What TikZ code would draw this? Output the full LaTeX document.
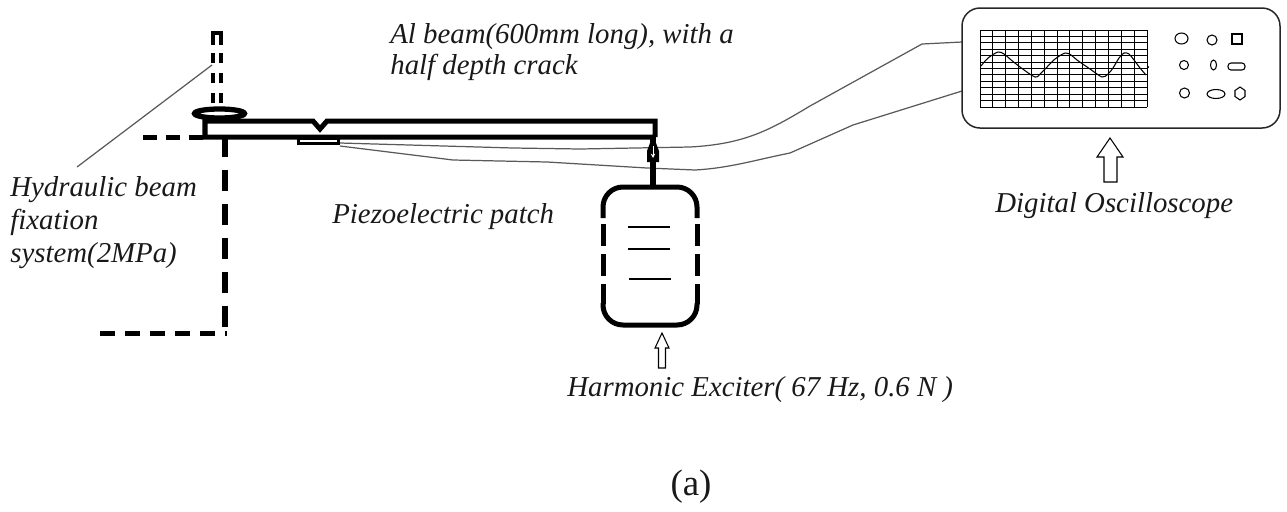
\documentclass[tikz,border=0pt]{standalone}
\usepackage{fontspec}
\setmainfont{Liberation Serif}[ItalicFont={Liberation Serif Italic}]
\usetikzlibrary{arrows.meta}
\begin{document}
\begin{tikzpicture}[x=0.02cm,y=-0.02cm,
  heavy/.style={line width=2.85pt},
  post/.style={line width=2pt},
  wire/.style={line width=0.7pt, draw=black!65},
  fine/.style={line width=0.6pt},
  lbl/.style={font=\fontsize{16.4pt}{20pt}\selectfont\itshape, inner sep=0pt, anchor=base west, text=black!90},
  hollow/.style={line width=0.6pt, draw=black, fill=white, line join=miter}]
\useasboundingbox (0,0) rectangle (1287,511);

% ---------- hydraulic fixation frame ----------
\draw[post] (213,45) -- (213,33) -- (221,33) -- (221,45);
\draw[post, dash pattern=on 0.2cm off 0.2cm] (213,53) -- (213,110);
\draw[post, dash pattern=on 0.2cm off 0.2cm] (221,53) -- (221,110);
\draw[line width=3pt, fill=white] (219.5,113.5) ellipse [x radius=0.5cm, y radius=0.09cm];
\draw[heavy, dash pattern=on 0.28cm off 0.18cm] (143,137) -- (205,137);
\draw[heavy, dash pattern=on 0.42cm off 0.26cm] (225,136) -- (225,333);
\draw[heavy, dash pattern=on 0.3cm off 0.2cm] (100,333) -- (227,333);

% ---------- wires from the patch to the oscilloscope ----------
\coordinate (patchA) at (340,143);
\coordinate (patchB) at (340,146);
\coordinate (chA) at (962,42);
\coordinate (chB) at (962,91);
\draw[wire] (patchA) -- (513,148) -- (580,149) -- (690,147)
  .. controls (745,144) and (770,130) .. (810,106) -- (922,44) -- (chA);
\draw[wire] (patchB) -- (453,160) -- (547,162) -- (647,168) -- (695,170)
  .. controls (730,168) and (755,160) .. (790,153) -- (853,125) -- (chB);

% ---------- cracked aluminium beam ----------
\draw[heavy, line join=miter] (655,137) -- (205,137) -- (205,121) -- (313,121) -- (320,129) -- (327,121) -- (655,121) -- (655,137);
\draw[line width=1.7pt] (298.5,138.5) rectangle (338.5,143.5);

% ---------- stinger and exciter ----------
\draw[line width=3.4pt] (653,137) -- (653,188);
\fill (647,162) -- (647,151) -- (650,143) -- (656,143) -- (659,151) -- (659,162) -- cycle;
\draw[white, line width=0.5pt, -{Stealth[length=2.5pt,width=2.5pt]}] (653,146) -- (653,158);
\draw[heavy, rounded corners=0.4cm] (603,218) -- (603,187) -- (697,187) -- (697,218);
\draw[heavy, rounded corners=0.4cm] (603,303) -- (603,325) -- (697,325) -- (697,303);
\draw[heavy, dash pattern=on 0.44cm off 0.16cm] (603,224) -- (603,304);
\draw[heavy, dash pattern=on 0.44cm off 0.16cm] (697,224) -- (697,304);
\draw[fine] (628,227) -- (670,227);
\draw[fine] (628,249) -- (670,249);
\draw[fine] (629,279) -- (671,279);

% ---------- oscilloscope ----------
\draw[line width=0.85pt, draw=black!85, rounded corners=0.36cm] (962,8) rectangle (1280,128);
\foreach \i in {0,...,13}
  \draw[line width=0.55pt] ({980+\i*12.85},30) -- ({980+\i*12.85},107);
\foreach \j in {0,...,12}
  \draw[line width=0.55pt] (980,{30+\j*6.42}) -- (1147,{30+\j*6.42});
\draw[line width=0.6pt] plot[smooth, tension=0.5] coordinates {
  (981,66) (988,58) (998,52) (1004,54) (1010,59) (1020,67) (1035,77) (1041,73)
  (1047,67) (1055,59) (1065,53) (1071,55) (1077,60) (1090,69) (1102,77) (1108,74)
  (1113,68) (1119,58) (1124,53) (1129,54) (1134,60) (1140,68) (1146,75)};
\fill (1148,67) circle [radius=0.7pt];
% knobs
\draw[fine] (1181.5,38.5) ellipse [x radius=0.13cm, y radius=0.11cm];
\draw[fine] (1212,40) circle [radius=0.1cm];
\draw[fine] (1232,34) rectangle (1242,44);
\draw[fine] (1184,65) circle [radius=0.09cm];
\draw[fine] (1213.5,65) ellipse [x radius=0.06cm, y radius=0.1cm];
\draw[fine, rounded corners=0.06cm] (1228,63) rectangle (1245,70);
\draw[fine] (1184.5,93) circle [radius=0.1cm];
\draw[fine] (1216,94) ellipse [x radius=0.18cm, y radius=0.09cm];
\draw[fine] (1240,87) -- (1245,90.5) -- (1245,96.5) -- (1240,100) -- (1235,96.5) -- (1235,90.5) -- cycle;

% ---------- pointer arrows ----------
\draw[hollow] (662,333) -- (655,348) -- (658.5,348) -- (658.5,368) -- (665.5,368) -- (665.5,348) -- (669,348) -- cycle;
\draw[hollow] (1110,138) -- (1097,157) -- (1104,157) -- (1104,182) -- (1117,182) -- (1117,157) -- (1123,157) -- cycle;

% ---------- labels ----------
\coordinate (leadA) at (77,167);
\coordinate (leadB) at (212,65);
\draw[wire] (leadA) -- (leadB);
\node[lbl] (beamA) at (390,43) {Al beam(600mm long), with a};
\node[lbl] (beamB) at (390,74) {half depth crack};
\node[lbl] (hydA) at (10,196) {Hydraulic beam};
\node[lbl] (hydB) at (10,229) {fixation};
\node[lbl] (hydC) at (10,262) {system(2MPa)};
\node[lbl] (piezo) at (332,223) {Piezoelectric patch};
\node[lbl] (exciter) at (567,396) {Harmonic Exciter( 67 Hz, 0.6 N )};
\node[lbl] (scope) at (995,212) {Digital Oscilloscope};
\node[font=\fontsize{21pt}{25pt}\selectfont, inner sep=0pt, anchor=base, text=black!90] (caption) at (691,495) {(a)};
\end{tikzpicture}
\end{document}
